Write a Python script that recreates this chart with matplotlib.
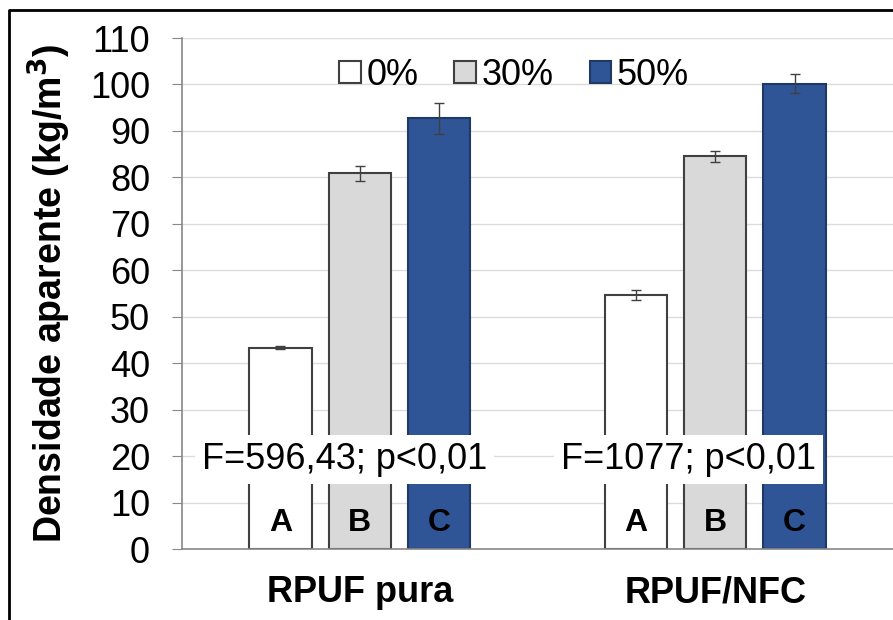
import matplotlib
matplotlib.use("Agg")
import matplotlib.pyplot as plt
from matplotlib.lines import Line2D
import numpy as np

plt.rcParams["font.family"] = ["Liberation Sans", "DejaVu Sans"]

# ── Data ─────────────────────────────────────────────────────────────────────
groups = ["RPUF pura", "RPUF/NFC"]
series = ["0%", "30%", "50%"]
means = {
    "0%":  [43.3, 54.6],
    "30%": [80.9, 84.5],
    "50%": [92.7, 100.2],
}
errors = {
    "0%":  [0.3, 1.1],
    "30%": [1.6, 1.2],
    "50%": [3.3, 2.1],
}
letters = ["A", "B", "C"]
anova_text = ["F=596,43; p<0,01", "F=1077; p<0,01"]

FACE = {"0%": "#FFFFFF", "30%": "#D9D9D9", "50%": "#2F5597"}
EDGE = {"0%": "#404040", "30%": "#404040", "50%": "#1F3864"}

# ── Plot ─────────────────────────────────────────────────────────────────────
fig = plt.figure(figsize=(8.93, 6.2), dpi=100)
ax = fig.add_axes([182 / 893, 0.1145, 1 - 182 / 893, 0.8242])

x = np.arange(len(groups))
w = 0.175
offsets = [-0.223, 0.0, 0.223]
for s, off in zip(series, offsets):
    ax.bar(x + off, means[s], w, color=FACE[s], edgecolor=EDGE[s],
           linewidth=1.5, label=s, zorder=2)
    ax.errorbar(x + off, means[s], yerr=errors[s], fmt="none",
                ecolor="#404040", elinewidth=1, capsize=3.5, capthick=1, zorder=3)
    for xi in x:
        ax.text(xi + off, 5.6, letters[series.index(s)], ha="center", va="center",
                fontsize=23, fontweight="bold", color="black", zorder=4)

# ANOVA result boxes drawn over the bars
for xi, dx, txt in zip(x, [-0.042, -0.076], anova_text):
    ax.text(xi + dx, 19.3, txt, ha="center", va="center", fontsize=26,
            color="black", zorder=5,
            bbox=dict(facecolor="white", edgecolor="none", pad=5))

ax.set_xlim(-0.5, 1.5)
ax.set_ylim(0, 110)
ax.set_yticks(np.arange(0, 111, 10))
ax.set_xticks(x)
ax.set_xticklabels(groups, fontsize=26, fontweight="bold")
ax.tick_params(axis="x", length=0, pad=19)
ax.tick_params(axis="y", labelsize=26, length=7, color="#888888", pad=16)
ax.yaxis.grid(True, color="#DCDCDC", linewidth=1, zorder=0)
ax.set_axisbelow(True)
for side in ["top", "right"]:
    ax.spines[side].set_visible(False)
for side in ["left", "bottom"]:
    ax.spines[side].set_color("#888888")
    ax.spines[side].set_linewidth(1.2)

ax.set_ylabel("Densidade aparente (kg/m$^\\mathbf{3}$)", fontsize=27,
              fontweight="bold")
ax.yaxis.set_label_coords(-0.153, 0.5)

leg = ax.legend(loc="upper center", bbox_to_anchor=(0.467, 1.025), ncol=3,
                frameon=False, fontsize=26, handlelength=0.6, handleheight=0.6,
                handletextpad=0.15, columnspacing=1.0)

# outer frame (left and top edges)
fig.add_artist(Line2D([9 / 893, 9 / 893, 1], [0, 1 - 10 / 620, 1 - 10 / 620],
                      transform=fig.transFigure, color="black", linewidth=2))

fig.savefig("out.png", dpi=100)
